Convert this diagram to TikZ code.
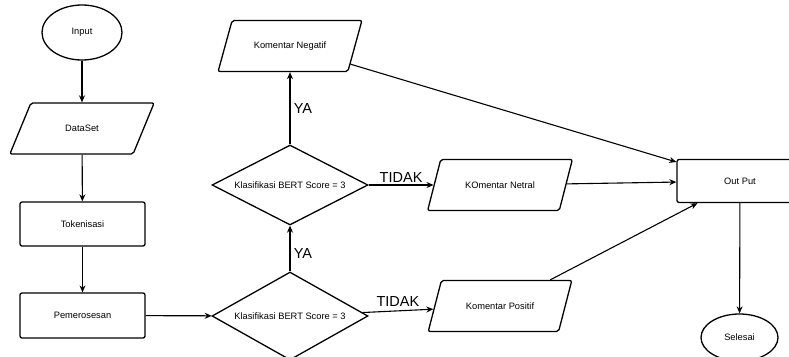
\documentclass[tikz,border=0pt]{standalone}
\usepackage{fontspec}
\setmainfont{Liberation Sans}
\usetikzlibrary{shapes.geometric,arrows.meta}

\begin{document}
\begin{tikzpicture}[x=1pt, y=-1pt,
    every node/.style={font=\fontsize{9.3}{11}\selectfont},
    line/.style={line width=1.1pt, -{Stealth[length=7pt,width=6pt]}},
    proc/.style={draw, line width=1.3pt, rounded corners=2pt, minimum width=125pt, minimum height=44pt},
    io/.style={draw, line width=1.3pt, rounded corners=2pt, trapezium, trapezium left angle=58, trapezium right angle=122, trapezium stretches=true, minimum width=145pt, minimum height=51pt},
    term/.style={draw, line width=1.3pt, ellipse},
    cond/.style={draw, line width=1.3pt, diamond, inner sep=0pt, minimum width=156pt},
    lbl/.style={font=\fontsize{14.5}{16}\selectfont}]
    \useasboundingbox (0,0) rectangle (789,356);

    \node[term, minimum width=80pt, minimum height=55pt] (input) at (82, 32.5) {Input};
    \node[io] (dataset) at (82, 128.5) {DataSet};
    \node[proc] (token) at (82.5, 224) {Tokenisasi};
    \node[proc, minimum height=45pt] (proses) at (82.5, 315.5) {Pemerosesan};
    \node[cond, aspect=1.77, minimum height=88pt] (cekb) at (290, 316) {Klasifikasi BERT Score = 3};
    \node[cond, aspect=1.95, minimum height=80pt] (ceka) at (290, 185) {Klasifikasi BERT Score = 3};
    \node[io] (negatif) at (290, 46) {Komentar Negatif};
    \node[io] (netral) at (500, 185) {KOmentar Netral};
    \node[io] (positif) at (500, 306) {Komentar Positif};
    \node[proc, minimum width=126pt, minimum height=43pt] (output) at (740, 181) {Out Put};
    \node[term, minimum width=77pt, minimum height=47pt] (selesai) at (739.5, 337.5) {Selesai};

    \draw[line] (input) -- (dataset);
    \draw[line] (dataset) -- (token);
    \draw[line] (token) -- (proses);
    \draw[line] (proses) -- (cekb);
    \draw[line] (cekb) -- node[lbl, right, pos=0.4] {YA} (ceka);
    \draw[line] (ceka) -- node[lbl, right] {YA} (negatif);
    \draw[line] (ceka) -- node[lbl, above, inner sep=2pt] {TIDAK} (netral);
    \draw[line] (cekb) -- node[lbl, above, inner sep=4pt] {TIDAK} (positif);
    \draw[line] (negatif) -- (output);
    \draw[line] (netral) -- (output);
    \draw[line] (positif) -- (output);
    \draw[line] (output) -- (selesai);
\end{tikzpicture}
\end{document}
